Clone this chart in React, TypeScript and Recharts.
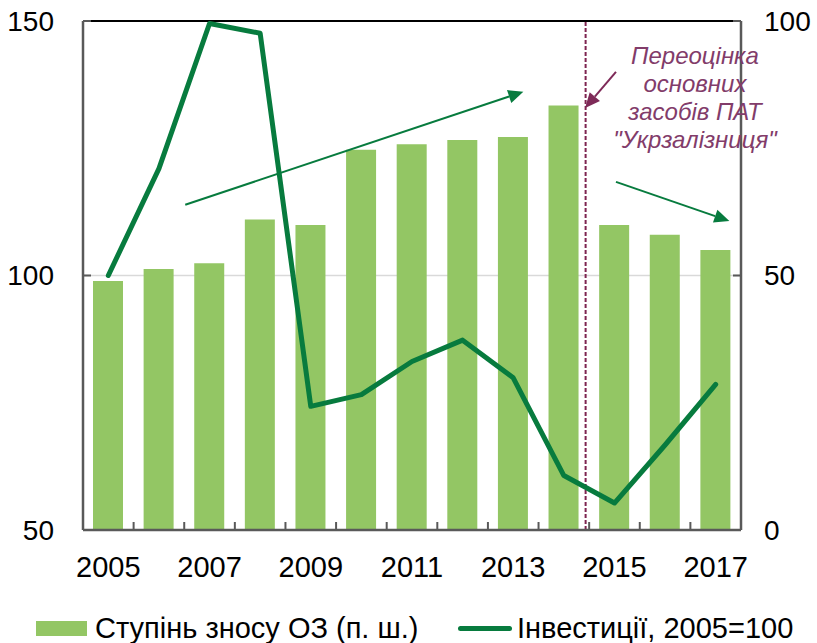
import React from "react";
import {
  ComposedChart,
  Bar,
  Line,
  XAxis,
  YAxis,
  CartesianGrid,
  ReferenceLine,
  ReferenceDot,
  Legend,
} from "recharts";

const years = ["2005", "2006", "2007", "2008", "2009", "2010", "2011", "2012", "2013", "2014", "2015", "2016", "2017"];
const wearDegree = [98.9, 101.3, 102.4, 111.0, 109.9, 124.7, 125.8, 126.6, 127.2, 133.4, 109.9, 108.0, 105.0];
const investment = [50, 71, 99.5, 97.6, 24.3, 26.6, 33.1, 37.3, 29.9, 10.7, 5.3, 16.7, 28.6];

const leftTicks = [50, 100, 150];
const rightTicks = [0, 50, 100];

// annotation positions in (category index, left-axis value)
const riseArrow = [{ x: 1.52, y: 113.9 }, { x: 8.2, y: 136.1 }];
const fallArrow = [{ x: 10.03, y: 118.4 }, { x: 12.27, y: 110.7 }];
const noteArrow = [{ x: 10.03, y: 140 }, { x: 9.42, y: 132.9 }];
const revaluationAt = 9.43;
const noteLines = ["Переоцінка", "основних", "засобів ПАТ", "\"Укрзалізниця\""];

const BAR_COLOR = "#93C664";
const LINE_COLOR = "#077B3E";
const AXIS_COLOR = "#595959";
const NOTE_COLOR = "#823C6A";

const PLOT_W = 817 - 83 - 76;
const BAND = PLOT_W / years.length;

const chartData = years.map((year, i) => ({
  year,
  idx: i,
  wear: wearDegree[i],
  invest: investment[i],
}));

function arrow(color: string, width: number, head: number) {
  return (p: any) => {
    const { x1, y1, x2, y2 } = p;
    const a = Math.atan2(y2 - y1, x2 - x1);
    const c = Math.cos(a);
    const s = Math.sin(a);
    const bx = x2 - head * c;
    const by = y2 - head * s;
    const w = head * 0.45;
    const pts = `${x2},${y2} ${bx - w * s},${by + w * c} ${bx + w * s},${by - w * c}`;
    return (
      <g>
        <line x1={x1} y1={y1} x2={bx} y2={by} stroke={color} strokeWidth={width} />
        <polygon points={pts} fill={color} />
      </g>
    );
  };
}

// year label on every other category, small inward tick at each category boundary
function YearTick(p: any) {
  const { x, y, index, payload } = p;
  const axisY = y - 26;
  const last = index === years.length - 1;
  return (
    <g>
      {!last && (
        <line
          x1={x + BAND / 2}
          x2={x + BAND / 2}
          y1={axisY}
          y2={axisY - 8}
          stroke={AXIS_COLOR}
          strokeWidth={2}
        />
      )}
      {index % 2 === 0 && (
        <text x={x} y={y} dy="0.71em" textAnchor="middle" fill="#000" fontSize={29}>
          {payload.value}
        </text>
      )}
    </g>
  );
}

function NoteText(p: any) {
  const { cx, cy } = p;
  return (
    <text x={cx} y={cy} fill={NOTE_COLOR} fontSize={24} fontStyle="italic" textAnchor="middle">
      {noteLines.map((t, i) => (
        <tspan key={i} x={cx} y={cy + i * 28.3} dy="0.35em">
          {t}
        </tspan>
      ))}
    </text>
  );
}

function LegendBox() {
  return (
    <div style={{ position: "relative", width: 817, height: 30, fontSize: 29, color: "#000" }}>
      <div style={{ position: "absolute", left: 36, top: 0, display: "flex", alignItems: "center", height: 30 }}>
        <span style={{ width: 51, height: 15, background: BAR_COLOR, display: "inline-block", marginRight: 8 }} />
        <span style={{ whiteSpace: "nowrap" }}>Ступінь зносу ОЗ (п. ш.)</span>
      </div>
      <div style={{ position: "absolute", left: 458, top: 0, display: "flex", alignItems: "center", height: 30 }}>
        <span style={{ width: 54, height: 5, background: LINE_COLOR, borderRadius: 3, display: "inline-block", marginRight: 5 }} />
        <span style={{ whiteSpace: "nowrap" }}>Інвестиції, 2005=100</span>
      </div>
    </div>
  );
}

export default function App() {
  return (
    <div
      style={{
        position: "absolute",
        left: 0,
        top: 0,
        width: 817,
        height: 643,
        background: "#fff",
        fontFamily: "'Liberation Sans', Arial, sans-serif",
      }}
    >
      <ComposedChart
        width={817}
        height={643}
        data={chartData}
        margin={{ top: 21, right: 0, bottom: 0, left: 0 }}
      >
        <CartesianGrid vertical={false} stroke="#D9D9D9" strokeWidth={1.5} yAxisId="left" />
        <XAxis
          dataKey="year"
          interval={0}
          tickLine={false}
          tickSize={0}
          tickMargin={26}
          height={83}
          axisLine={{ stroke: AXIS_COLOR, strokeWidth: 2.5 }}
          tick={<YearTick />}
        />
        <XAxis
          xAxisId="n"
          dataKey="idx"
          type="number"
          domain={[-0.5, 12.5]}
          allowDataOverflow
          hide
        />
        <YAxis
          yAxisId="left"
          domain={[50, 150]}
          ticks={leftTicks}
          width={83}
          tickSize={-8}
          tickMargin={37}
          axisLine={{ stroke: AXIS_COLOR, strokeWidth: 2.5 }}
          tickLine={{ stroke: AXIS_COLOR, strokeWidth: 2 }}
          tick={{ fill: "#000", fontSize: 28 }}
        />
        <YAxis
          yAxisId="right"
          orientation="right"
          domain={[0, 100]}
          ticks={rightTicks}
          width={76}
          tickSize={-8}
          tickMargin={31}
          axisLine={{ stroke: AXIS_COLOR, strokeWidth: 2.5 }}
          tickLine={{ stroke: AXIS_COLOR, strokeWidth: 2 }}
          tick={{ fill: "#000", fontSize: 28, textAnchor: "start" }}
        />
        <Bar yAxisId="left" dataKey="wear" fill={BAR_COLOR} barSize={30} isAnimationActive={false} />
        <ReferenceLine yAxisId="left" y={150} stroke="#000" strokeWidth={2} />
        <ReferenceLine
          xAxisId="n"
          yAxisId="left"
          x={revaluationAt}
          stroke="#7E2450"
          strokeWidth={2}
          strokeDasharray="4 2"
        />
        <Line
          yAxisId="right"
          type="linear"
          dataKey="invest"
          stroke={LINE_COLOR}
          strokeWidth={5}
          strokeLinecap="round"
          strokeLinejoin="round"
          dot={false}
          activeDot={false}
          isAnimationActive={false}
        />
        <ReferenceLine xAxisId="n" yAxisId="left" segment={riseArrow} shape={arrow(LINE_COLOR, 2, 15)} />
        <ReferenceLine xAxisId="n" yAxisId="left" segment={fallArrow} shape={arrow(LINE_COLOR, 2, 15)} />
        <ReferenceLine xAxisId="n" yAxisId="left" segment={noteArrow} shape={arrow("#7E2A58", 2, 15)} />
        <ReferenceDot xAxisId="n" yAxisId="left" x={11.59} y={143.3} r={0} shape={NoteText} />
        <Legend verticalAlign="bottom" content={<LegendBox />} wrapperStyle={{ left: 0, bottom: 0 }} />
      </ComposedChart>
    </div>
  );
}
